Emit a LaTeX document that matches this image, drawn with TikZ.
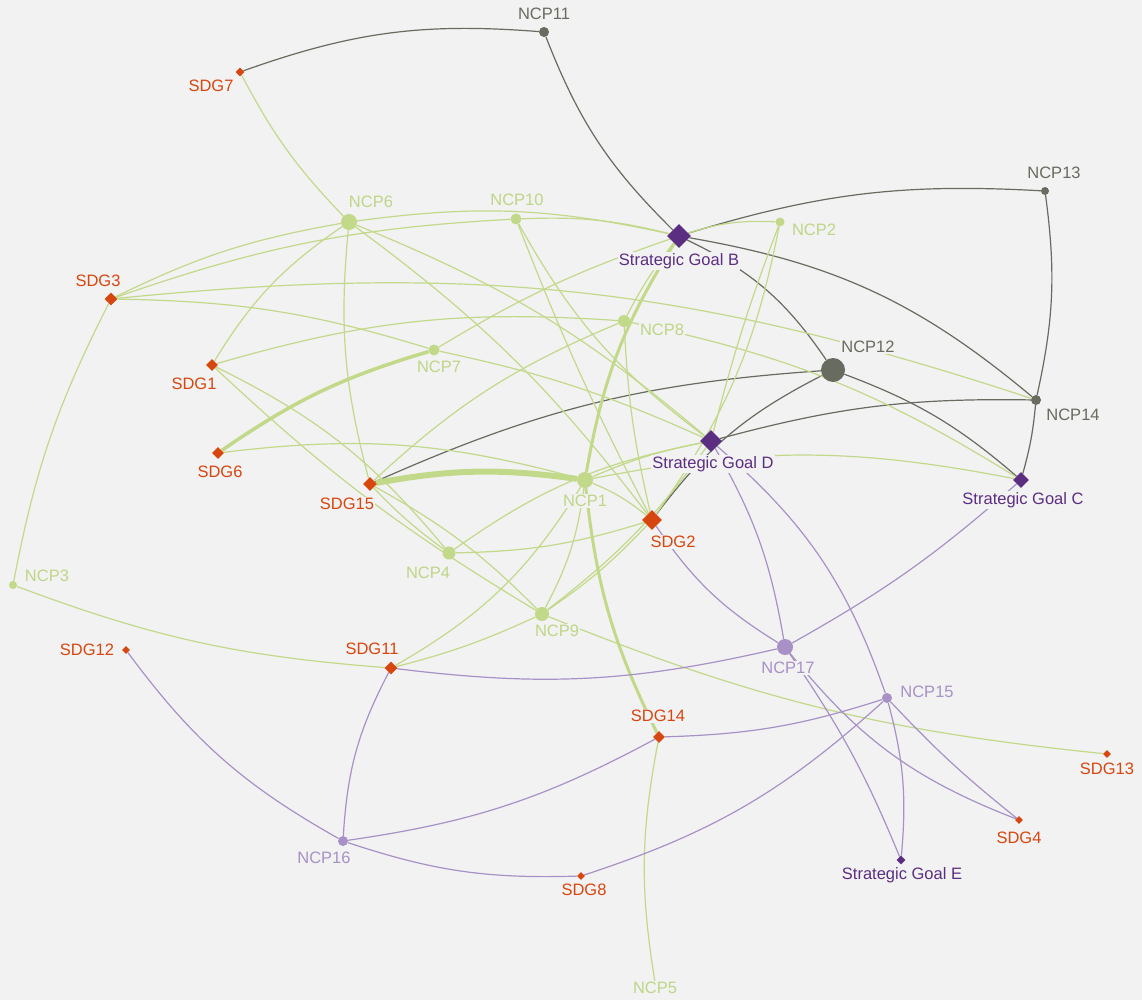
\documentclass[tikz,border=0pt]{standalone}
\usepackage{fontspec}
\setmainfont{Liberation Sans}
\usetikzlibrary{shapes.geometric}
\definecolor{bgc}{RGB}{242,242,242}
\definecolor{cgreen}{RGB}{194,217,138}
\definecolor{cgreentxt}{RGB}{190,214,135}
\definecolor{cgray}{RGB}{104,107,95}
\definecolor{clpur}{RGB}{168,145,198}
\definecolor{corange}{RGB}{216,70,15}
\definecolor{cdpur}{RGB}{92,46,130}
\pgfdeclarelayer{bglayer}
\pgfdeclarelayer{edgelayer}
\pgfsetlayers{bglayer,edgelayer,main}
\begin{document}
\begin{tikzpicture}[x=1pt,y=-1pt,
  dotg/.style={circle,inner sep=0pt,fill=cgreen,minimum size=#1},
  dotk/.style={circle,inner sep=0pt,fill=cgray,minimum size=#1},
  dotp/.style={circle,inner sep=0pt,fill=clpur,minimum size=#1},
  dia/.style={diamond,inner sep=0pt,fill=corange,minimum size=#1},
  sgoal/.style={diamond,inner sep=0pt,fill=cdpur,minimum size=#1},
  lab/.style={fill=bgc,inner sep=1pt,font=\fontsize{16.5}{18}\selectfont},
  ge/.style={draw=cgreen,line width=1.2pt},
  ke/.style={draw=cgray,line width=1.2pt},
  pe/.style={draw=clpur,line width=1.2pt}]
\begin{pgfonlayer}{bglayer}
\fill[bgc] (0,0) rectangle (1142,1000);
\end{pgfonlayer}
\useasboundingbox (0,0) rectangle (1142,1000);

% nodes
\node[dotk=10] (ncp11) at (544,32) {};
\node[dia=9] (sdg7) at (240,72) {};
\node[dotk=8] (ncp13) at (1045,191) {};
\node[dotg=16] (ncp6) at (349,222) {};
\node[dotg=11] (ncp10) at (516,219) {};
\node[sgoal=24] (sgb) at (679,236) {};
\node[dotg=9] (ncp2) at (780,222) {};
\node[dia=13] (sdg3) at (111,299) {};
\node[dotg=12] (ncp8) at (624,321) {};
\node[dia=12] (sdg1) at (212,365) {};
\node[dotg=11] (ncp7) at (434,350) {};
\node[dotk=24] (ncp12) at (833,370) {};
\node[dotk=10] (ncp14) at (1036,400) {};
\node[dia=12] (sdg6) at (218,453) {};
\node[sgoal=22] (sgd) at (711,441) {};
\node[dia=14] (sdg15) at (370,484) {};
\node[dotg=16] (ncp1) at (585,480) {};
\node[sgoal=16] (sgc) at (1021,480) {};
\node[dia=20] (sdg2) at (652,520) {};
\node[dotg=13] (ncp4) at (449,553) {};
\node[dotg=8] (ncp3) at (13,585) {};
\node[dotg=14] (ncp9) at (542,614) {};
\node[dotp=16] (ncp17) at (785,647) {};
\node[dia=8] (sdg12) at (126,650) {};
\node[dia=13] (sdg11) at (391,668) {};
\node[dotp=10] (ncp15) at (887,698) {};
\node[dia=12] (sdg14) at (659,737) {};
\node[dia=8] (sdg13) at (1107,754) {};
\node[dia=8] (sdg4) at (1019,820) {};
\node[dotp=10] (ncp16) at (343,841) {};
\node[sgoal=9] (sge) at (901,860) {};
\node[dia=8] (sdg8) at (581,876) {};
\coordinate (ncp5) at (655,982);

\begin{pgfonlayer}{edgelayer}
% gray
\draw[ke] (sdg7) to[bend left=12] (ncp11);
\draw[ke] (ncp11) to[bend right=12] (sgb);
\draw[ke] (sgb) to[bend left=10] (ncp13);
\draw[ke] (sgb) to[bend left=15] (ncp14);
\draw[ke] (sgb) to[bend left=15] (ncp12);
\draw[ke] (ncp12) to[bend left=10] (sgc);
\draw[ke] (sdg15) to[bend left=10] (ncp12);
\draw[ke] (sdg2) to[bend left=13] (ncp12);
\draw[ke] (sgd) to[bend left=8] (ncp14);
\draw[ke] (ncp13) to[bend left=10] (ncp14);
\draw[ke] (ncp14) to[bend left=5] (sgc);
% green
\draw[ge] (sdg7) to[bend right=8] (ncp6);
\draw[ge] (sdg3) to[bend left=8] (ncp6);
\draw[ge] (ncp6) to[bend left=10] (sgb);
\draw[ge] (sdg3) to[bend left=8] (ncp10);
\draw[ge] (ncp10) to[bend left=8] (sgb);
\draw[ge] (sgb) to[bend left=10] (ncp2);
\draw[ge] (sdg3) to[bend left=12] (ncp14);
\draw[ge] (sdg3) to[bend left=8] (ncp7);
\draw[ge] (ncp7) to[bend left=6] (sgd);
\draw[ge] (sdg3) to[bend right=8] (ncp3);
\draw[ge] (ncp6) to[bend right=12] (sdg1);
\draw[ge] (ncp6) to[bend right=10] (sdg15);
\draw[ge] (ncp6) to[bend left=8] (sdg2);
\draw[ge] (ncp6) to[bend left=9] (sgd);
\draw[ge] (sdg1) to[bend left=10] (ncp8);
\draw[ge] (sdg1) to[bend left=12] (ncp4);
\draw[ge] (sdg1) to[bend right=6] (ncp9);
\draw[ge,line width=3.5pt] (sdg6) to[bend left=9] (ncp7);
\draw[ge] (sdg6) to[bend left=11] (ncp1);
\draw[ge,line width=6pt] (sdg15) to[bend left=9] (ncp1);
\draw[ge] (sdg15) to[bend left=10] (ncp8);
\draw[ge] (sdg15) to[bend right=5] (ncp4);
\draw[ge] (sdg15) to[bend left=8] (ncp9);
\draw[ge,line width=3pt] (ncp1) to[bend left=11] (sgb);
\draw[ge,line width=3pt] (ncp1) to[bend right=10] (sdg14);
\draw[ge] (ncp1) to[bend left=6] (sgd);
\draw[ge] (ncp1) to[bend left=11] (sgc);
\draw[ge] (ncp1) to[bend left=8] (sdg2);
\draw[ge] (ncp1) to[bend left=14] (sdg11);
\draw[ge] (ncp1) to[bend left=10] (ncp9);
\draw[ge] (ncp4) to[bend left=12] (sgd);
\draw[ge] (ncp4) to[bend right=8] (sdg2);
\draw[ge] (ncp8) to[bend right=5] (sdg2);
\draw[ge] (ncp8) to[bend left=5] (sgb);
\draw[ge] (ncp8) to[bend left=10] (sgc);
\draw[ge] (ncp10) to[bend right=3] (sdg2);
\draw[ge] (ncp10) to[bend right=12] (sgd);
\draw[ge] (ncp7) to[bend left=6] (sgb);
\draw[ge] (ncp2) to[bend right=3] (sgd);
\draw[ge] (ncp2) to[bend left=12] (sdg2);
\draw[ge] (ncp9) to[bend right=8] (sgd);
\draw[ge] (ncp9) to[bend right=6] (sdg2);
\draw[ge] (ncp9) to[bend right=8] (sdg13);
\draw[ge] (ncp9) to[bend left=5] (sdg11);
\draw[ge] (ncp3) to[bend right=8] (sdg11);
\draw[ge] (sdg14) to[bend right=10] (ncp5);
% purple
\draw[pe] (sdg2) to[bend right=12] (ncp17);
\draw[pe] (sgd) to[bend left=10] (ncp17);
\draw[pe] (sgc) to[bend left=6] (ncp17);
\draw[pe] (sdg11) to[bend right=10] (ncp17);
\draw[pe] (ncp17) to[bend left=6] (sge);
\draw[pe] (ncp17) to[bend right=15] (sdg4);
\draw[pe] (sgd) to[bend left=15] (ncp15);
\draw[pe] (sdg14) to[bend right=8] (ncp15);
\draw[pe] (ncp15) to[bend left=12] (sdg8);
\draw[pe] (ncp15) to[bend left=10] (sge);
\draw[pe] (ncp15) to[bend right=4] (sdg4);
\draw[pe] (sdg12) to[bend right=12] (ncp16);
\draw[pe] (sdg11) to[bend right=12] (ncp16);
\draw[pe] (ncp16) to[bend right=10] (sdg14);
\draw[pe] (ncp16) to[bend right=10] (sdg8);
\end{pgfonlayer}

% labels
\node[lab,text=cgray] (lncp11) at (544,14) {NCP11};
\node[lab,text=corange] (lsdg7) at (211,86) {SDG7};
\node[lab,text=cgray] (lncp13) at (1054,173) {NCP13};
\node[lab,text=cgreentxt] (lncp6) at (371,202) {NCP6};
\node[lab,text=cgreentxt] (lncp10) at (517,200) {NCP10};
\node[lab,text=cdpur] (lsgb) at (679,261) {Strategic Goal B};
\node[lab,text=cgreentxt] (lncp2) at (814,230) {NCP2};
\node[lab,text=corange] (lsdg3) at (98,281) {SDG3};
\node[lab,text=cgreentxt] (lncp8) at (662,330) {NCP8};
\node[lab,text=corange] (lsdg1) at (194,384) {SDG1};
\node[lab,text=cgreentxt] (lncp7) at (439,367) {NCP7};
\node[lab,text=cgray] (lncp12) at (868,347) {NCP12};
\node[lab,text=cgray] (lncp14) at (1073,415) {NCP14};
\node[lab,text=corange] (lsdg6) at (220,472) {SDG6};
\node[lab,text=cdpur] (lsgd) at (713,464) {Strategic Goal D};
\node[lab,text=corange] (lsdg15) at (347,504) {SDG15};
\node[lab,text=cgreentxt] (lncp1) at (585,501) {NCP1};
\node[lab,text=cdpur] (lsgc) at (1023,500) {Strategic Goal C};
\node[lab,text=corange] (lsdg2) at (673,542) {SDG2};
\node[lab,text=cgreentxt] (lncp4) at (428,573) {NCP4};
\node[lab,text=cgreentxt] (lncp3) at (47,576) {NCP3};
\node[lab,text=cgreentxt] (lncp9) at (557,631) {NCP9};
\node[lab,text=clpur] (lncp17) at (788,668) {NCP17};
\node[lab,text=corange] (lsdg12) at (87,650) {SDG12};
\node[lab,text=corange] (lsdg11) at (372,649) {SDG11};
\node[lab,text=clpur] (lncp15) at (927,692) {NCP15};
\node[lab,text=corange] (lsdg14) at (658,716) {SDG14};
\node[lab,text=corange] (lsdg13) at (1107,769) {SDG13};
\node[lab,text=corange] (lsdg4) at (1019,838) {SDG4};
\node[lab,text=clpur] (lncp16) at (324,858) {NCP16};
\node[lab,text=cdpur] (lsge) at (902,875) {Strategic Goal E};
\node[lab,text=corange] (lsdg8) at (584,890) {SDG8};
\node[lab,text=cgreentxt] (lncp5) at (655,988) {NCP5};
\end{tikzpicture}
\end{document}
